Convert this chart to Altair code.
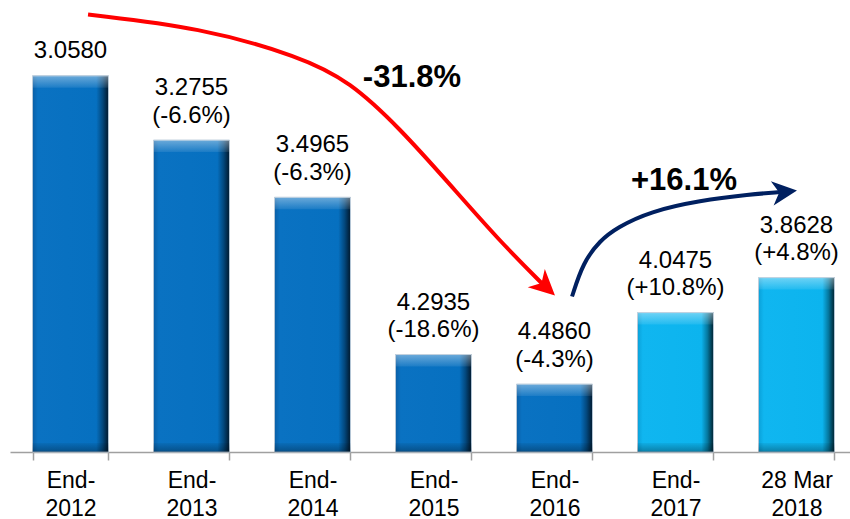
import altair as alt
import pandas as pd

# ---------------- data ----------------
categories = ["End-2012", "End-2013", "End-2014", "End-2015", "End-2016", "End-2017", "28 Mar 2018"]
rates = [3.0580, 3.2755, 3.4965, 4.2935, 4.4860, 4.0475, 3.8628]
changes = [None, -6.6, -6.3, -18.6, -4.3, 10.8, 4.8]
shades = ["dark", "dark", "dark", "dark", "dark", "light", "light"]

# annotation arrows, in (category-position, 1/rate) units
red_x = [0.645, 1.570, 2.397, 2.810, 3.223, 3.636, 4.050, 4.397]
red_y = [0.34770, 0.34332, 0.33353, 0.32509, 0.30922, 0.29031, 0.27107, 0.25689]
red_tip = [4.504, 0.2528]
blue_x = [4.645, 4.736, 4.876, 5.017, 5.289, 5.702, 6.116, 6.364]
blue_y = [0.25250, 0.26398, 0.27140, 0.27579, 0.28120, 0.28491, 0.28694, 0.28778]
blue_tip = [6.504, 0.2883]
callout_text = ["-31.8%", "+16.1%"]
callout_x = [3.322, 5.570]
callout_y = [0.32306, 0.28829]

Y_MIN, Y_MAX = 0.2, 0.3526
FONT = "Liberation Sans"

rate_text = [f"{r:.4f}" for r in rates]
change_text = ["" if c is None else f"({c:+.1f}%)" for c in changes]

bars_df = pd.DataFrame({"cat": categories, "rate": rates, "rtxt": rate_text,
                        "ctxt": change_text, "shade": shades})
red_df = pd.DataFrame({"ax": red_x, "ay": red_y})
blue_df = pd.DataFrame({"ax": blue_x, "ay": blue_y})
tips_df = pd.DataFrame({"ax": [red_tip[0], blue_tip[0]], "ay": [red_tip[1], blue_tip[1]],
                        "which": ["red", "blue"]})
callout_df = pd.DataFrame({"ax": callout_x, "ay": callout_y, "t": callout_text})

# ---------------- styles ----------------
def hgrad(stops):
    return alt.LinearGradient(gradient="linear", x1=0, y1=0, x2=1, y2=0,
                              stops=[alt.GradientStop(offset=o, color=c) for o, c in stops])

def vgrad(stops):
    return alt.LinearGradient(gradient="linear", x1=0, y1=0, x2=0, y2=1,
                              stops=[alt.GradientStop(offset=o, color=c) for o, c in stops])

dark_fill = hgrad([(0, "#0a5fa6"), (0.07, "#0a72c2"), (0.84, "#0670c0"), (0.92, "#03497f"), (1, "#01182c")])
light_fill = hgrad([(0, "#0aa0d8"), (0.07, "#10b6f0"), (0.84, "#0cb4ee"), (0.92, "#05789f"), (1, "#00212e")])
top_fill = vgrad([(0, "rgba(255,255,255,0.40)"), (1, "rgba(255,255,255,0.08)")])
bot_fill = vgrad([(0, "rgba(0,0,0,0.05)"), (1, "rgba(0,0,0,0.30)")])

ARROW = "M0,0 L-1,-0.49 L-0.72,0 L-1,0.49 Z"

yscale = alt.Scale(domain=[Y_MIN, Y_MAX], zero=False, clamp=True)
band = alt.Scale(domain=categories, range=[0, 847], paddingInner=0.372, paddingOuter=0.186)

x_axis = alt.Axis(
    title=None, labelAngle=0, labelFont=FONT, labelFontSize=23, labelColor="#000000",
    labelLineHeight=28, labelPadding=9, labelBaseline="top",
    labelExpr="[trim(substring(datum.label, 0, length(datum.label) - 4)), substring(datum.label, length(datum.label) - 4)]",
    domainColor="#a0a0a0", domainWidth=1.5, tickColor="#a0a0a0", tickWidth=1.5, tickSize=8,
    tickBand="extent", grid=False,
)
x_enc = alt.X("cat:N", sort=categories, scale=band, axis=x_axis)
y_inv = alt.Y("inv:Q", scale=yscale, axis=None)

base = alt.Chart(bars_df).transform_calculate(inv="1/datum.rate")

dark_bars = base.transform_filter("datum.shade == 'dark'").mark_bar(
    fill=dark_fill, stroke="#b4c6d6", strokeWidth=1
).encode(x=x_enc, y=y_inv, y2=alt.datum(Y_MIN))

light_bars = base.transform_filter("datum.shade == 'light'").mark_bar(
    fill=light_fill, stroke="#b4c6d6", strokeWidth=1
).encode(x=x_enc, y=y_inv, y2=alt.datum(Y_MIN))

top_bevel = base.mark_bar(fill=top_fill, y2Offset=12).encode(
    x=x_enc, y=y_inv, y2=alt.Y2("inv"))

bottom_bevel = base.mark_bar(fill=bot_fill, yOffset=-9).encode(
    x=x_enc, y=alt.Y(datum=Y_MIN, scale=yscale, axis=None), y2=alt.datum(Y_MIN))

txt_style = dict(font=FONT, fontSize=24, baseline="alphabetic", align="center", color="#000000")
LINE_GAP = 17.5
LINE_H = 27.5

rate_single = base.transform_filter("datum.ctxt == ''").mark_text(dy=-LINE_GAP, **txt_style).encode(
    x=x_enc, y=y_inv, text="rtxt:N")
rate_double = base.transform_filter("datum.ctxt != ''").mark_text(dy=-LINE_GAP - LINE_H, **txt_style).encode(
    x=x_enc, y=y_inv, text="rtxt:N")
change_line = base.transform_filter("datum.ctxt != ''").mark_text(dy=-LINE_GAP, **txt_style).encode(
    x=x_enc, y=y_inv, text="ctxt:N")

bars_layer = alt.layer(dark_bars, light_bars, top_bevel, bottom_bevel, rate_single, rate_double, change_line)

ax_x = alt.X("ax:Q", scale=alt.Scale(domain=[0, 7], range=[0, 847], zero=False, nice=False), axis=None)
ax_y = alt.Y("ay:Q", scale=yscale, axis=None)

red_line = alt.Chart(red_df).mark_line(color="#FF0000", strokeWidth=4, interpolate="basis").encode(x=ax_x, y=ax_y)
blue_line = alt.Chart(blue_df).mark_line(color="#002060", strokeWidth=4, interpolate="basis").encode(x=ax_x, y=ax_y)

red_head = alt.Chart(tips_df).transform_filter("datum.which == 'red'").mark_point(
    shape=ARROW, filled=True, size=2620, angle=43, color="#FF0000", opacity=1, strokeWidth=0
).encode(x=ax_x, y=ax_y)
blue_head = alt.Chart(tips_df).transform_filter("datum.which == 'blue'").mark_point(
    shape=ARROW, filled=True, size=2480, angle=353.5, color="#002060", opacity=1, strokeWidth=0
).encode(x=ax_x, y=ax_y)

callouts = alt.Chart(callout_df).mark_text(
    font=FONT, fontSize=31, fontWeight="bold", color="#000000", align="center", baseline="alphabetic"
).encode(x=ax_x, y=ax_y, text="t:N")

arrows_layer = alt.layer(red_line, blue_line, red_head, blue_head, callouts)

chart = alt.layer(bars_layer, arrows_layer).resolve_scale(x="independent").properties(
    width=840, height=452,
    padding={"left": 10, "top": 0, "right": 0, "bottom": 67},
    autosize=alt.AutoSizeParams(type="none"),
).configure_view(stroke=None)

chart.save("out.html", embed_options={"renderer": "svg", "actions": False})
